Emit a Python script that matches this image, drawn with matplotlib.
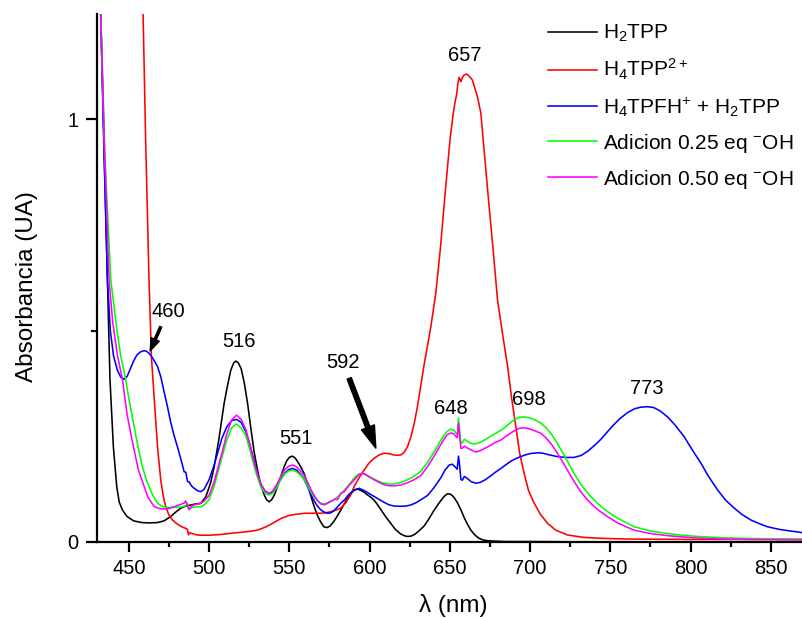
import matplotlib
matplotlib.use("Agg")
import matplotlib.pyplot as plt
from matplotlib.ticker import MultipleLocator

plt.rcParams["font.family"] = ["Liberation Sans", "DejaVu Sans"]
plt.rcParams["mathtext.fontset"] = "custom"
plt.rcParams["mathtext.rm"] = "Liberation Sans"
plt.rcParams["mathtext.it"] = "Liberation Sans:italic"
plt.rcParams["mathtext.bf"] = "Liberation Sans:bold"

# ---- spectra (wavelength in nm, absorbance in UA) ----
wl_h2tpp = [428, 432.5, 434.5, 436.7, 438.3, 440.4, 442.5, 444, 446, 449, 453, 458, 463, 468,
            472, 476, 479, 482.4, 485.5, 488.6, 491.5, 494.9, 498, 501, 503.2, 506, 509.4,
            511.5, 513.6, 515.3, 516.7, 518.2, 520, 522, 524, 526, 528, 530.2, 532, 534.3,
            535.8, 537.4, 539, 540.8, 542.6, 544.7, 546.8, 548.5, 550.3, 552, 553.8, 555.5,
            557.5, 559.2, 561.5, 563.5, 565.5, 567.5, 569.6, 571.5, 573.5, 575.5, 578, 580,
            582, 584.5, 587, 589.5, 591.2, 592.8, 594.5, 596.5, 598.5, 600.7, 602.8, 605,
            607.5, 610, 613.2, 616, 619, 621.5, 623.6, 626, 628.5, 631, 634, 637, 640, 642.5,
            644.4, 646.5, 648.5, 650.5, 652.5, 654.7, 656.9, 659, 661, 663.1, 665.5, 668,
            670.5, 673.5, 678, 685, 700, 750, 800, 870]
a_h2tpp = [1.7, 1.25, 0.95, 0.62, 0.383, 0.225, 0.131, 0.095, 0.076, 0.06, 0.05, 0.046, 0.045,
           0.046, 0.05, 0.06, 0.07, 0.08, 0.085, 0.0875, 0.09, 0.0915, 0.107, 0.14, 0.178,
           0.24, 0.328, 0.37, 0.407, 0.423, 0.428, 0.424, 0.41, 0.375, 0.328, 0.27, 0.215,
           0.17, 0.138, 0.112, 0.1, 0.095, 0.1, 0.112, 0.131, 0.155, 0.178, 0.193, 0.201,
           0.203, 0.198, 0.188, 0.175, 0.162, 0.135, 0.108, 0.0835, 0.063, 0.047, 0.036,
           0.034, 0.038, 0.05, 0.062, 0.075, 0.092, 0.108, 0.119, 0.124, 0.125, 0.122, 0.118,
           0.112, 0.106, 0.099, 0.088, 0.074, 0.06, 0.044, 0.03, 0.02, 0.015, 0.013, 0.014,
           0.019, 0.027, 0.038, 0.055, 0.074, 0.088, 0.098, 0.108, 0.114, 0.113, 0.106,
           0.093, 0.076, 0.057, 0.042, 0.028, 0.017, 0.009, 0.005, 0.003, 0.002, 0.001,
           0.001, 0.0, 0.0, 0.0]

wl_h4tpp = [455, 458.9, 460.5, 462.6, 464.1, 466, 467.9, 469.9, 471.5, 473, 475, 477.2, 480,
            483, 485.5, 486.5, 487.2, 488, 489.5, 492, 495, 500, 505, 510, 515, 520, 525, 530,
            535, 540, 545, 550, 555, 560, 565, 569.6, 574, 578, 582, 585, 588, 590.4, 593.5,
            596.6, 599.5, 602.8, 606, 609.1, 612, 615, 617.4, 619.5, 621.5, 623.6, 625.7,
            627.8, 629.8, 631.9, 634, 636.1, 638.2, 641.3, 644, 646.5, 648.5, 650.2, 652,
            653.2, 654.3, 655, 655.8, 656.5, 656.9, 657.6, 658.7, 660.4, 662, 664,
            667.2, 669.3, 671.5, 674.1, 677, 679.7, 682.5, 686, 688.5, 691.1, 693.5, 696.3,
            699, 702.5, 706.5, 710.9, 716, 723.3, 733, 744, 760, 800, 870]
a_h4tpp = [1.9, 1.25, 0.95, 0.62, 0.438, 0.33, 0.225, 0.147, 0.108, 0.0835, 0.064, 0.052,
           0.043, 0.036, 0.032, 0.03, 0.017, 0.022, 0.02, 0.017, 0.016, 0.016, 0.017, 0.019,
           0.021, 0.023, 0.025, 0.028, 0.035, 0.045, 0.056, 0.063, 0.066, 0.068, 0.068,
           0.068, 0.07, 0.074, 0.08, 0.092, 0.11, 0.131, 0.152, 0.17, 0.186, 0.198, 0.206,
           0.21, 0.209, 0.206, 0.205, 0.206, 0.212, 0.225, 0.248, 0.28, 0.32, 0.37, 0.42,
           0.465, 0.51, 0.59, 0.69, 0.8, 0.885, 0.955, 1.01, 1.04, 1.06, 1.085, 1.099,
           1.092, 1.089, 1.097, 1.104, 1.107, 1.102, 1.093, 1.053, 1.015, 0.92, 0.809, 0.69,
           0.573, 0.5, 0.415, 0.34, 0.273, 0.21, 0.162, 0.122, 0.092, 0.065, 0.044, 0.028,
           0.0166, 0.011, 0.0087, 0.007, 0.006, 0.006]

wl_mix = [428, 432.5, 434.5, 436.7, 438.5, 440.5, 443, 445, 447, 449, 451, 453, 455, 457,
          458.8, 460.6, 462.5, 464.5, 466, 467.9, 470, 472, 474.1, 476, 478, 480.3, 482.5,
          484.5, 485.5, 486.6, 487.6, 489, 490.7, 493, 494.9, 497, 500, 503, 505.3, 508, 511,
          514, 517.1, 520, 523, 526, 528, 530.2, 532.5, 535, 537.4, 539.5, 542, 544.7, 547,
          549.5, 552, 554.5, 557, 559.2, 561.3, 563.5, 565.5, 567.5, 569.6, 572, 574, 575.9,
          578, 580, 582, 584.5, 587, 590.4, 593.5, 596.5, 600, 604.9, 609, 612, 615.3, 619.5,
          622.5, 625.7, 629, 632, 636.1, 640, 644.4, 647, 649.6, 651.5, 653.7, 654.6, 655.4,
          656, 656.9, 657.8, 659, 661, 663.1, 666.2, 669, 672, 675, 678, 681.8, 685, 688, 691,
          694.2, 697, 700, 704.6, 708, 712, 717, 722, 727.4, 732, 736, 740, 744.1, 748, 752,
          756, 760.7, 765, 769, 773.2, 777, 781, 785.6, 790, 796, 801, 806.5, 811, 816.8, 822,
          827.2, 832, 837.5, 843, 847.9, 855, 862, 870]
a_mix = [1.7, 1.25, 0.93, 0.62, 0.5, 0.44, 0.405, 0.39, 0.385, 0.392, 0.41, 0.428, 0.442,
         0.449, 0.452, 0.452, 0.447, 0.437, 0.428, 0.415, 0.39, 0.355, 0.32, 0.285, 0.255,
         0.225, 0.195, 0.166, 0.165, 0.143, 0.142, 0.133, 0.127, 0.121, 0.119, 0.125, 0.147,
         0.18, 0.21, 0.245, 0.272, 0.287, 0.29, 0.283, 0.26, 0.222, 0.194, 0.16, 0.135, 0.12,
         0.115, 0.118, 0.13, 0.148, 0.162, 0.171, 0.174, 0.17, 0.16, 0.148, 0.131, 0.112,
         0.097, 0.085, 0.076, 0.07, 0.068, 0.069, 0.075, 0.083, 0.0915, 0.1, 0.112, 0.123,
         0.127, 0.122, 0.114, 0.103, 0.094, 0.088, 0.085, 0.0845, 0.085, 0.0875, 0.093, 0.1,
         0.11, 0.128, 0.152, 0.17, 0.182, 0.184, 0.176, 0.172, 0.203, 0.185, 0.148, 0.146,
         0.155, 0.15, 0.143, 0.139, 0.141, 0.147, 0.155, 0.164, 0.174, 0.183, 0.191, 0.197,
         0.202, 0.206, 0.209, 0.211, 0.21, 0.206, 0.202, 0.2, 0.2, 0.205, 0.215, 0.228, 0.243,
         0.26, 0.277, 0.292, 0.306, 0.315, 0.319, 0.32, 0.318, 0.31, 0.296, 0.278, 0.249,
         0.218, 0.186, 0.156, 0.123, 0.098, 0.08, 0.065, 0.052, 0.043, 0.036, 0.03, 0.026,
         0.022]

wl_oh025 = [428, 432.5, 435, 438.8, 441, 443, 445, 448, 450, 452.5, 455.4, 458, 460.5, 462.7,
            465, 467.9, 470, 472, 474.1, 477, 480, 483, 485.5, 486.3, 487, 488, 490, 492.5,
            494.9, 497, 500, 503, 505.5, 508, 511, 514, 517.1, 520, 523, 526, 528, 530.2,
            532.5, 535, 537.4, 539.5, 542, 544.7, 547, 549.5, 552, 554.5, 557, 559.2, 561.5,
            563.5, 565.5, 567.5, 569.6, 572, 575, 578, 580, 582, 584, 586.2, 588.5, 590.5,
            592.5, 594.5, 596.6, 599, 602, 604.9, 608, 610.5, 613.2, 616, 619.5, 623.6, 627.5,
            631.9, 636, 640.2, 643.5, 646.5, 648.5, 650.6, 652.5, 653.7, 654.6, 655.4, 656.2,
            656.9, 657.8, 659, 661, 663.1, 666.2, 669, 672, 675, 678, 681.8, 685, 688, 690.1,
            692.5, 695.3, 698, 701, 703.5, 706.7, 710, 713.5, 717, 720.5, 724, 727.4, 731,
            734.5, 737.9, 743, 748.2, 755, 764.8, 775, 785.6, 795, 806.4, 820, 840, 870]
a_oh025 = [1.7, 1.25, 0.92, 0.62, 0.55, 0.49, 0.44, 0.385, 0.34, 0.29, 0.232, 0.185, 0.152,
           0.131, 0.11, 0.0915, 0.086, 0.083, 0.082, 0.082, 0.082, 0.083, 0.086, 0.092, 0.079,
           0.08, 0.082, 0.083, 0.0835, 0.088, 0.1, 0.13, 0.165, 0.2, 0.24, 0.27, 0.279, 0.27,
           0.25, 0.21, 0.18, 0.152, 0.128, 0.115, 0.111, 0.115, 0.128, 0.148, 0.16, 0.168,
           0.17, 0.166, 0.158, 0.148, 0.132, 0.118, 0.106, 0.097, 0.0915, 0.09, 0.095, 0.1,
           0.107, 0.113, 0.122, 0.131, 0.142, 0.152, 0.159, 0.162, 0.161, 0.155, 0.15, 0.145,
           0.14, 0.138, 0.137, 0.138, 0.141, 0.147, 0.155, 0.167, 0.188, 0.213, 0.235, 0.253,
           0.262, 0.267, 0.265, 0.258, 0.255, 0.293, 0.26, 0.233, 0.235, 0.243, 0.238, 0.233,
           0.232, 0.236, 0.242, 0.249, 0.256, 0.264, 0.273, 0.283, 0.289, 0.294, 0.296, 0.295,
           0.292, 0.288, 0.281, 0.27, 0.254, 0.233, 0.21, 0.186, 0.162, 0.14, 0.122, 0.107,
           0.088, 0.072, 0.055, 0.036, 0.026, 0.02, 0.016, 0.0126, 0.01, 0.008, 0.0063]

wl_oh050 = [428, 432.5, 435, 437.7, 440, 443, 446.1, 449, 452.9, 456, 459.6, 462, 465.8, 469,
            472, 475, 478, 482.4, 484.5, 485.4, 486.5, 487.6, 489, 492, 494.9, 497, 500, 503,
            505.5, 508, 511, 514, 517.1, 520, 523, 526, 528, 530.2, 532.5, 535, 537.4, 539.5,
            542, 544.7, 547, 549.5, 552, 554.5, 557, 559.2, 561.5, 563.5, 565.5, 567.5, 569.6,
            572, 575, 577, 578.5, 580, 582, 584, 586, 588.2, 590.4, 592.5, 594, 595.6, 597.5,
            600, 602.5, 604.9, 608, 610.5, 613.2, 616, 619.5, 623.6, 627.5, 631.9, 636, 640.2,
            643.5, 646.5, 648.5, 650.6, 652.5, 653.7, 654.6, 655.4, 656.2, 656.9, 657.8, 659,
            661, 663.1, 666.2, 669, 672, 675, 678, 681.8, 685, 688, 690.1, 692.5, 695.3, 698,
            701, 703.5, 706.7, 710, 713.5, 717, 720.5, 724, 727.4, 731, 734.5, 737.9, 743,
            748.2, 755, 764.8, 775, 785.6, 795, 806.4, 820, 840, 870]
a_oh050 = [1.7, 1.25, 0.92, 0.62, 0.52, 0.44, 0.383, 0.3, 0.225, 0.17, 0.131, 0.105, 0.084,
           0.079, 0.078, 0.079, 0.083, 0.089, 0.092, 0.097, 0.087, 0.076, 0.085, 0.089,
           0.0915, 0.097, 0.11, 0.14, 0.175, 0.21, 0.255, 0.288, 0.3, 0.29, 0.265, 0.222, 0.19,
           0.16, 0.135, 0.12, 0.115, 0.12, 0.135, 0.155, 0.17, 0.179, 0.182, 0.178, 0.168,
           0.157, 0.14, 0.124, 0.11, 0.099, 0.09, 0.088, 0.094, 0.098, 0.102, 0.1, 0.115,
           0.118, 0.128, 0.138, 0.147, 0.155, 0.161, 0.162, 0.16, 0.154, 0.148, 0.143, 0.137,
           0.134, 0.133, 0.133, 0.135, 0.14, 0.147, 0.157, 0.178, 0.203, 0.225, 0.244, 0.254,
           0.258, 0.256, 0.25, 0.247, 0.281, 0.248, 0.221, 0.222, 0.227, 0.222, 0.218, 0.213,
           0.216, 0.222, 0.228, 0.235, 0.241, 0.25, 0.258, 0.263, 0.268, 0.27, 0.269, 0.266,
           0.262, 0.257, 0.246, 0.23, 0.21, 0.188, 0.165, 0.143, 0.122, 0.105, 0.091, 0.074,
           0.06, 0.044, 0.028, 0.02, 0.015, 0.012, 0.009, 0.007, 0.006, 0.005]

series_labels = [r"H$_2$TPP", r"H$_4$TPP$^{2+}$", r"H$_4$TPFH$^{+}$ + H$_2$TPP",
                 r"Adicion 0.25 eq $^{-}$OH", r"Adicion 0.50 eq $^{-}$OH"]
series_colors = ["#000000", "#ff0000", "#0000ff", "#00ff00", "#ff00ff"]

# band maxima labelled on the plot: (text, x, y)
peak_labels = [("460", 474.9, 0.546), ("516", 518.5, 0.475), ("551", 554.0, 0.244),
               ("592", 583.3, 0.425), ("648", 650.6, 0.315), ("657", 659.3, 1.15),
               ("698", 699.2, 0.338), ("773", 772.7, 0.363)]

fig = plt.figure(figsize=(8.03, 6.18), dpi=100)
ax = fig.add_axes([0.1204, 0.123, 0.8796, 0.8544])

series = [(wl_h2tpp, a_h2tpp), (wl_h4tpp, a_h4tpp), (wl_mix, a_mix),
          (wl_oh025, a_oh025), (wl_oh050, a_oh050)]
for (x, y), lab, col in zip(series, series_labels, series_colors):
    ax.plot(x, y, color=col, lw=1.15, label=lab)

ax.set_xlim(430, 870)
ax.set_ylim(0, 1.249)

for side in ("top", "right"):
    ax.spines[side].set_visible(False)
for side in ("left", "bottom"):
    ax.spines[side].set_linewidth(1.6)

ax.xaxis.set_major_locator(MultipleLocator(50))
ax.xaxis.set_minor_locator(MultipleLocator(25))
ax.yaxis.set_major_locator(MultipleLocator(1))
ax.yaxis.set_minor_locator(MultipleLocator(0.5))
ax.tick_params(axis="both", which="major", direction="out", width=1.6, labelsize=14.5)
ax.tick_params(axis="x", which="major", length=7, pad=5)
ax.tick_params(axis="y", which="major", length=7.7, pad=5.5)
ax.tick_params(axis="x", which="minor", direction="out", width=1.6, length=3.5)
ax.tick_params(axis="y", which="minor", direction="out", width=1.6, length=4)

ax.set_xlabel(r"λ (nm)", fontsize=17.5)
ax.set_ylabel("Absorbancia (UA)", fontsize=17.5)
ax.xaxis.set_label_coords(0.5045, -0.098)
ax.yaxis.set_label_coords(-0.0824, 0.483)

for txt, x, y in peak_labels:
    ax.text(x, y, txt, ha="center", va="center", fontsize=14.5)

ax.annotate("", xy=(463.3, 0.452), xytext=(469.9, 0.509),
            arrowprops=dict(arrowstyle="simple,head_length=0.45,head_width=0.32,tail_width=0.08",
                            color="black", mutation_scale=20, shrinkA=0, shrinkB=0))
ax.annotate("", xy=(603.9, 0.222), xytext=(587.3, 0.387),
            arrowprops=dict(arrowstyle="simple,head_length=0.8,head_width=0.5,tail_width=0.16",
                            color="black", mutation_scale=20, shrinkA=0, shrinkB=0))

ax.legend(loc="upper left", bbox_to_anchor=(548 / 803, 1 - 23 / 618),
          bbox_transform=fig.transFigure, frameon=False, fontsize=15,
          borderpad=0, borderaxespad=0, handlelength=2.35, handletextpad=0.27,
          labelspacing=0.62)

fig.savefig("out.png", dpi=100)
